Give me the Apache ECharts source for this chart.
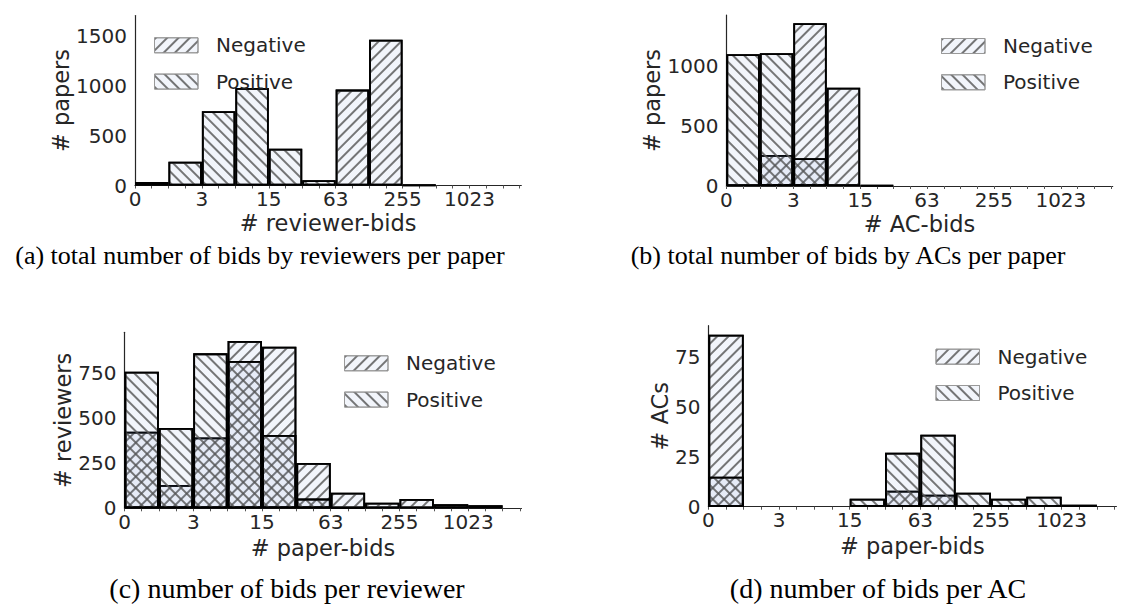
<!DOCTYPE html>
<html>
<head>
<meta charset="utf-8">
<script src="https://cdn.jsdelivr.net/npm/echarts@6/dist/echarts.min.js"></script>
<style>html,body{margin:0;padding:0;background:#fff}#c{width:1130px;height:604px}</style>
</head>
<body>
<div id="c"></div>
<script>
// x tick labels (bins are in log2(x+1) space, one bin per unit)
const xTickLabels = ['0', '3', '15', '63', '255', '1023'];
const seriesNames = ['Negative', 'Positive'];

// (a) total number of bids by reviewers per paper
const aNegative = [null, null, null, null, null, null, 962, 1462, 5, null, null];
const aPositive = [35, 238, 745, 978, 368, 52, null, null, null, null, null];
// (b) total number of bids by ACs per paper
const bNegative = [null, 257, 1351, 816, 5, null, null, null, null, null, null];
const bPositive = [1094, 1102, 230, null, null, null, null, null, null, null, null];
// (c) number of bids per reviewer
const cNegative = [426, 130, 394, 930, 898, 252, 87, 31, 52, 22, 17];
const cPositive = [759, 446, 861, 819, 407, 54, 4, null, null, null, null];
// (d) number of bids per AC
const dNegative = [86, null, null, null, null, 8, 6, null, null, null, null];
const dPositive = [15, null, null, null, 4, 27, 36, 7, 4, 5, 1];

const yNames = ['# papers', '# papers', '# reviewers', '# ACs'];
const xNames = ['# reviewer-bids', '# AC-bids', '# paper-bids', '# paper-bids'];
const captions = [
  '(a) total number of bids by reviewers per paper',
  '(b) total number of bids by ACs per paper',
  '(c) number of bids per reviewer',
  '(d) number of bids per AC'
];

const panels = [
  {neg: aNegative, pos: aPositive, ymax: 1705, yint: 500,
   grid: {left: 135, top: 15.5, width: 386.3, height: 170}, yGap: 56, xGap: 28,
   legend: {left: 154, top: 35.3}, cap: [260, 255], capSize: 26},
  {neg: bNegative, pos: bPositive, ymax: 1420, yint: 500,
   grid: {left: 726.4, top: 15, width: 386.3, height: 171}, yGap: 56, xGap: 28,
   legend: {left: 941, top: 36}, cap: [848, 255], capSize: 26},
  {neg: cNegative, pos: cPositive, ymax: 978, yint: 250,
   grid: {left: 124.5, top: 332.3, width: 397, height: 176}, yGap: 46, xGap: 30,
   legend: {left: 344, top: 353.3}, cap: [287, 588], capSize: 28},
  {neg: dNegative, pos: dPositive, ymax: 90.5, yint: 25,
   grid: {left: 708.4, top: 325.7, width: 408, height: 181}, yGap: 34.5, xGap: 30,
   legend: {left: 935.5, top: 346.7}, cap: [878, 588], capSize: 28}
];

const FONT = 'DejaVu Sans';
const TXT = '#262626';
const FS_TICK = 20;
const FS_NAME = 22.5;
const XMAX = 11.55;
const fillColor = 'rgba(110,135,205,0.085)';
const hatchColor = 'rgba(85,85,85,0.8)';

function decal(rot) {
  return {symbol: 'rect', symbolSize: 1, dashArrayX: [1, 0], dashArrayY: [1.1, 5.4],
          rotation: rot, color: hatchColor, backgroundColor: null};
}

const minorTicks = [];
for (let t = 0; t <= 11.5; t += 0.5) minorTicks.push(t);

const option = {
  animation: false,
  backgroundColor: '#fff',
  textStyle: {fontFamily: FONT, color: TXT},
  grid: [], xAxis: [], yAxis: [], series: [], legend: [], graphic: []
};

panels.forEach((p, k) => {
  option.grid.push(Object.assign({containLabel: false}, p.grid));
  option.xAxis.push({
    type: 'value', gridIndex: k, min: 0, max: XMAX, interval: 2,
    name: xNames[k], nameLocation: 'middle', nameGap: p.xGap,
    nameTextStyle: {fontFamily: FONT, fontSize: FS_NAME, color: TXT, lineHeight: 19},
    axisLine: {show: true, lineStyle: {color: TXT, width: 1.2}},
    axisTick: {show: true, customValues: minorTicks, length: 3, lineStyle: {color: '#555', width: 1}},
    axisLabel: {fontFamily: FONT, fontSize: FS_TICK, color: TXT, margin: 6, showMaxLabel: false, lineHeight: 15,
      formatter: v => { const i = Math.round(v / 2); return (Math.abs(v - 2 * i) < 1e-6 && xTickLabels[i] !== undefined) ? xTickLabels[i] : ''; }},
    splitLine: {show: false}
  });
  option.yAxis.push({
    type: 'value', gridIndex: k, min: 0, max: p.ymax, interval: p.yint,
    name: yNames[k], nameLocation: 'middle', nameGap: p.yGap,
    nameTextStyle: {fontFamily: FONT, fontSize: FS_NAME, color: TXT},
    axisLine: {show: true, lineStyle: {color: TXT, width: 1.2}},
    axisTick: {show: false},
    axisLabel: {fontFamily: FONT, fontSize: FS_TICK, color: TXT, margin: 8, showMaxLabel: false,
      formatter: v => (v % p.yint === 0 ? String(v) : '')},
    splitLine: {show: false}
  });
  const mk = (name, arr, rot) => ({
    type: 'bar', name: name, xAxisIndex: k, yAxisIndex: k,
    barWidth: '100%', barGap: '-100%',
    data: arr.map((v, i) => [i + 0.5, v]),
    itemStyle: {color: fillColor, borderColor: '#000', borderWidth: 1.8, decal: decal(rot)},
    emphasis: {disabled: true}
  });
  option.series.push(mk(seriesNames[0], p.neg, -Math.PI / 4));
  option.series.push(mk(seriesNames[1], p.pos, Math.PI / 4));
  option.legend.push({
    data: seriesNames, orient: 'vertical', left: p.legend.left, top: p.legend.top, padding: 0,
    itemWidth: 43.5, itemHeight: 15, itemGap: 16.3, icon: 'rect',
    textStyle: {fontFamily: FONT, fontSize: FS_TICK, lineHeight: 15, color: TXT, padding: [0, 0, 0, 13]},
    itemStyle: {borderColor: '#999', borderWidth: 1}, selectedMode: false
  });
});

option.graphic = panels.map((p, k) => ({
  type: 'text', x: p.cap[0], y: p.cap[1],
  style: {text: captions[k], font: p.capSize + 'px "Liberation Serif"', fill: '#000', align: 'center', verticalAlign: 'middle'}
}));

const chart = echarts.init(document.getElementById('c'), null, {renderer: 'svg'});
chart.setOption(option);
</script>
</body>
</html>
